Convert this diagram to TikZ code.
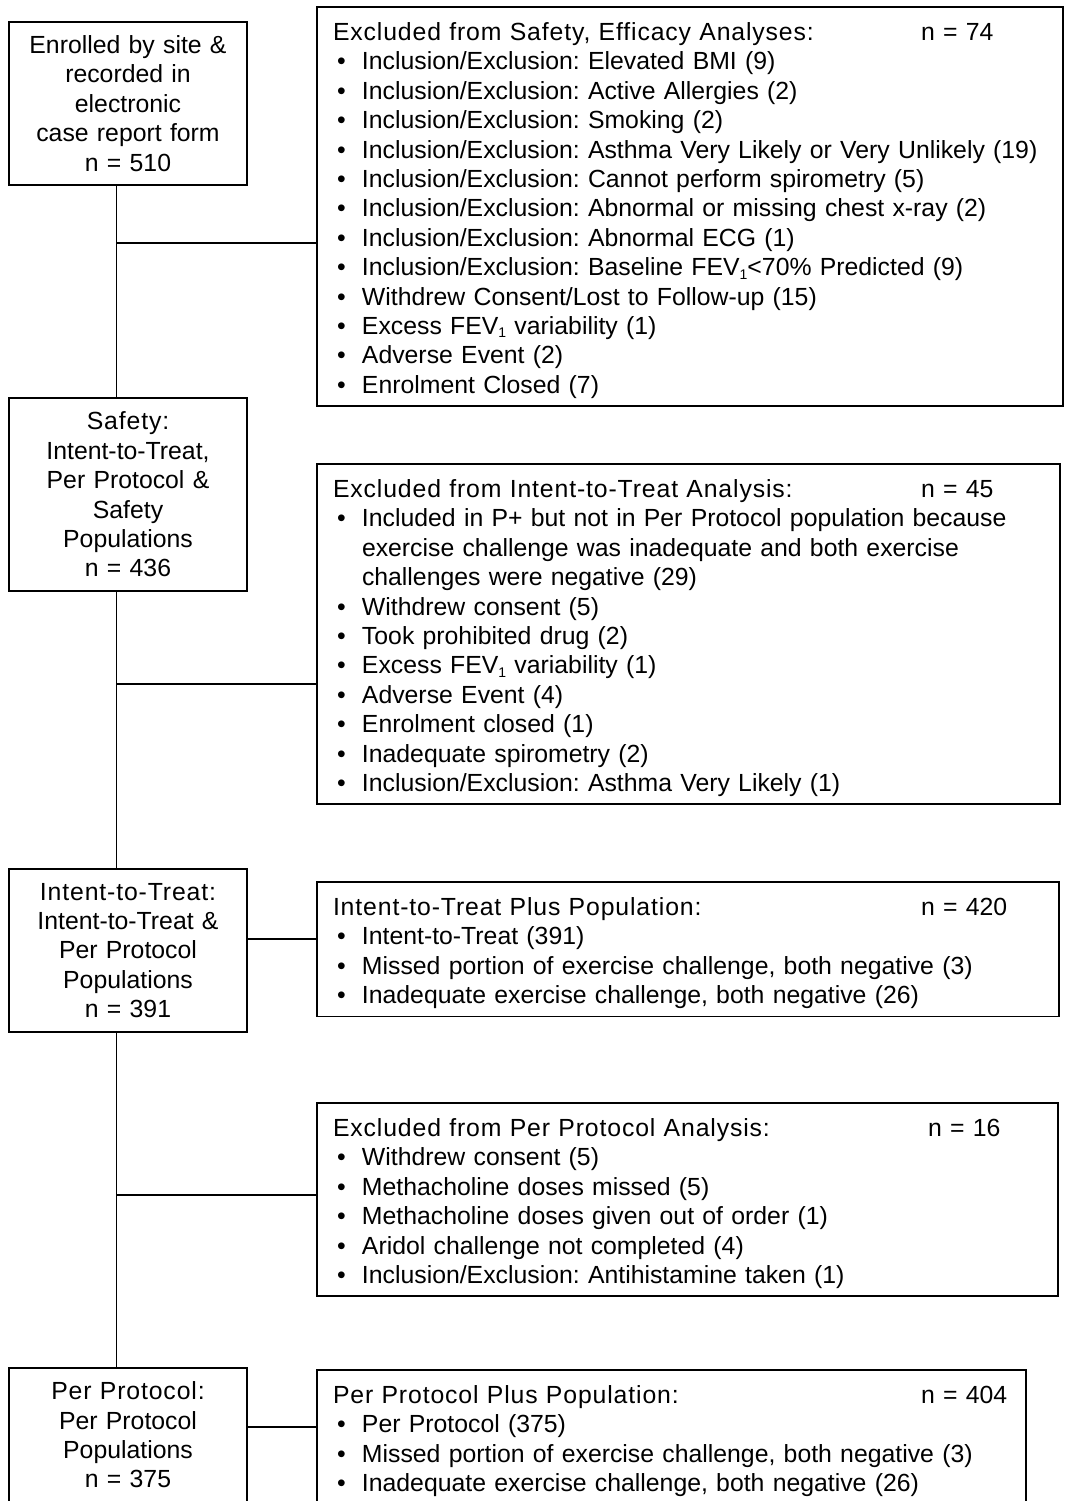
\documentclass[tikz,border=0pt]{standalone}
\usepackage{fontspec}
\setmainfont{Liberation Sans}
\newfontfamily\headfont[LetterSpace=3.5]{Liberation Sans}
\usetikzlibrary{positioning}
\frenchspacing

% header line and bullet line of the list boxes
\newcommand{\listhead}[3][588pt]{\noindent\rule{0pt}{29.8pt}\makebox[#1][l]{\headfont #2}#3}
\newcommand{\bitem}[1]{\par\noindent\hangindent=29pt\hangafter=1\makebox[29pt][l]{\hspace{4pt}•}#1\strut}
\newcommand{\fev}{FEV\raisebox{-3.5pt}{\fontsize{14}{14}\selectfont 1}}

\tikzset{
    popblock/.style={
        rectangle,
        draw=black,
        line width=1.4pt,
        outer sep=0pt,
        minimum width=238pt,
        text width=220pt,
        inner xsep=9pt,
        align=center,
        font=\fontsize{24.8}{29.4}\selectfont
    },
    listblock/.style={
        rectangle,
        draw=black,
        line width=1.4pt,
        outer sep=0pt,
        inner xsep=16pt,
        inner ysep=3.7pt,
        align=left,
        font=\fontsize{24.8}{29.4}\selectfont
    },
    link/.style={
        line width=1.4pt
    }
}

\begin{document}
\begin{tikzpicture}
\useasboundingbox (0,0) rectangle (1067pt,-1501pt);

% Population boxes
\node (enrolled) [popblock, minimum height=163pt, anchor=north west] at (9pt,-22pt) {Enrolled by site \&\\ recorded in\\ electronic\\ case report form\\ n = 510};
\node (safety) [popblock, minimum height=193pt, below=213pt of enrolled] {{\headfont Safety:}\\ Intent-to-Treat,\\ Per Protocol \&\\ Safety\\ Populations\\ n = 436};
\node (itt) [popblock, minimum height=163pt, below=278pt of safety] {{\headfont Intent-to-Treat:}\\ Intent-to-Treat \&\\ Per Protocol\\ Populations\\ n = 391};
\node (pp) [popblock, minimum height=134pt, below=336pt of itt] {{\headfont Per Protocol:}\\ Per Protocol\\ Populations\\ n = 375};

% List boxes
\node (exclsafety) [listblock, text width=714pt, below right=-15pt and 70pt of enrolled.north east] {%
\listhead{Excluded from Safety, Efficacy Analyses:}{n = 74}
\bitem{Inclusion/Exclusion: Elevated BMI (9)}
\bitem{Inclusion/Exclusion: Active Allergies (2)}
\bitem{Inclusion/Exclusion: Smoking (2)}
\bitem{Inclusion/Exclusion: Asthma Very Likely or Very Unlikely (19)}
\bitem{Inclusion/Exclusion: Cannot perform spirometry (5)}
\bitem{Inclusion/Exclusion: Abnormal or missing chest x-ray (2)}
\bitem{Inclusion/Exclusion: Abnormal ECG (1)}
\bitem{Inclusion/Exclusion: Baseline \fev<70\% Predicted (9)}
\bitem{Withdrew Consent/Lost to Follow-up (15)}
\bitem{Excess \fev{} variability (1)}
\bitem{Adverse Event (2)}
\bitem{Enrolment Closed (7)}};
\node (exclitt) [listblock, text width=711pt, below right=66pt and 70pt of safety.north east] {%
\listhead{Excluded from Intent-to-Treat Analysis:}{n = 45}
\bitem{Included in P+ but not in Per Protocol population because\newline exercise challenge was inadequate and both exercise\newline challenges were negative (29)}
\bitem{Withdrew consent (5)}
\bitem{Took prohibited drug (2)}
\bitem{Excess \fev{} variability (1)}
\bitem{Adverse Event (4)}
\bitem{Enrolment closed (1)}
\bitem{Inadequate spirometry (2)}
\bitem{Inclusion/Exclusion: Asthma Very Likely (1)}};
\node (ittplus) [listblock, text width=710pt, below right=13pt and 70pt of itt.north east] {%
\listhead{Intent-to-Treat Plus Population:}{n = 420}
\bitem{Intent-to-Treat (391)}
\bitem{Missed portion of exercise challenge, both negative (3)}
\bitem{Inadequate exercise challenge, both negative (26)}};
\node (exclpp) [listblock, text width=709pt, below right=71pt and 70pt of itt.south east] {%
\listhead[595pt]{Excluded from Per Protocol Analysis:}{n = 16}
\bitem{Withdrew consent (5)}
\bitem{Methacholine doses missed (5)}
\bitem{Methacholine doses given out of order (1)}
\bitem{Aridol challenge not completed (4)}
\bitem{Inclusion/Exclusion: Antihistamine taken (1)}};
\node (ppplus) [listblock, text width=677pt, below right=2pt and 70pt of pp.north east] {%
\listhead{Per Protocol Plus Population:}{n = 404}
\bitem{Per Protocol (375)}
\bitem{Missed portion of exercise challenge, both negative (3)}
\bitem{Inadequate exercise challenge, both negative (26)}};

% Trunk and branches
\coordinate (trunk) at ([xshift=-11.5pt]enrolled.south);
\coordinate (j1) at (0,-243pt);
\coordinate (j2) at (0,-684pt);
\coordinate (j3) at (0,-939pt);
\coordinate (j4) at (0,-1195pt);
\coordinate (j5) at (0,-1427pt);

\draw[link] (enrolled.south -| trunk) -- (safety.north -| trunk);
\draw[link] (safety.south -| trunk) -- (itt.north -| trunk);
\draw[link] (itt.south -| trunk) -- (pp.north -| trunk);
\draw[link] (trunk |- j1) -- (exclsafety.west |- j1);
\draw[link] (trunk |- j2) -- (exclitt.west |- j2);
\draw[link] (itt.east |- j3) -- (ittplus.west |- j3);
\draw[link] (trunk |- j4) -- (exclpp.west |- j4);
\draw[link] (pp.east |- j5) -- (ppplus.west |- j5);

\end{tikzpicture}
\end{document}
